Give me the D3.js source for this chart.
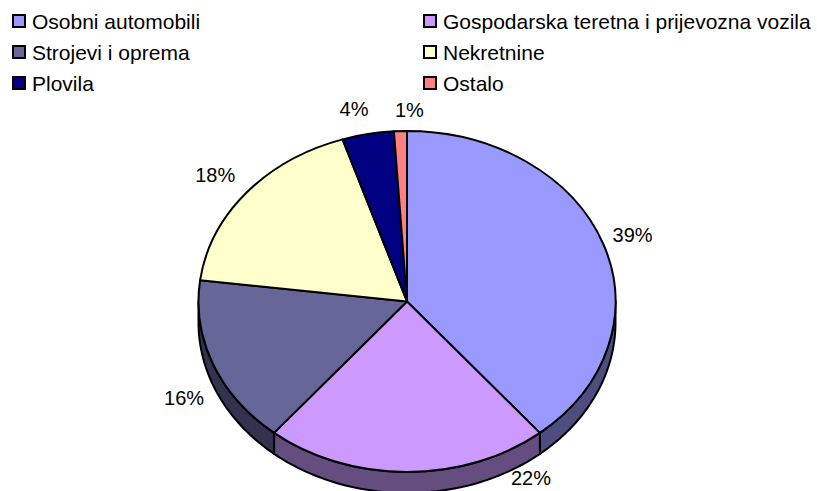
<!DOCTYPE html>
<html>
<head>
<meta charset="utf-8">
<script src="https://cdn.jsdelivr.net/npm/d3@7"></script>
<style>
  html, body { margin: 0; padding: 0; background: #fff; }
  svg { display: block; font-family: "Liberation Sans", Arial, sans-serif; }
</style>
</head>
<body>
<svg id="chart" width="817" height="491"></svg>
<script>
// Struktura po vrsti predmeta (udio u %)
const categories = [
  "Osobni automobili",
  "Gospodarska teretna i prijevozna vozila",
  "Strojevi i oprema",
  "Nekretnine",
  "Plovila",
  "Ostalo"
];
const shares = [39, 22, 16, 18, 4, 1];

// Slice fills (top face) and their shaded walls
const topColors  = ["#9999FF", "#CC99FF", "#666699", "#FFFFCC", "#000080", "#FF8080"];
const sideColors = ["#4D4D80", "#664D80", "#333350", "#808066", "#000040", "#804040"];

// Small nudges for the percentage labels around the rim
const labelNudge = [[0, 0], [124, -20], [0, 24], [-7, -2], [-8, 0], [10, 4]];

const svg = d3.select("#chart");
const W = 817, H = 491;

// Tilted pie geometry
const cx = 407, cy = 301.5, rx = 208.5, ry = 170.5, depth = 21;

const pie = d3.pie().sort(null).value(d => d);
const arcs = pie(shares);

const pt = (a, dy = 0, k = 1) => [cx + k * rx * Math.sin(a), cy - k * ry * Math.cos(a) + dy];

// Outer walls, only for the part of the rim facing the viewer
const wallLine = d3.line();
const walls = svg.append("g");
arcs.forEach((d, i) => {
  const a0 = Math.max(d.startAngle, Math.PI / 2);
  const a1 = Math.min(d.endAngle, 3 * Math.PI / 2);
  if (a0 >= a1) return;
  const steps = 60;
  const angles = d3.range(steps + 1).map(s => a0 + (a1 - a0) * s / steps);
  const pts = angles.map(a => pt(a)).concat(angles.slice().reverse().map(a => pt(a, depth)));
  walls.append("path")
    .attr("d", wallLine(pts) + "Z")
    .attr("fill", sideColors[i])
    .attr("stroke", "#000")
    .attr("stroke-width", 2)
    .attr("stroke-linejoin", "round");
});

// Top faces: circular arcs squashed into the ellipse
const arcGen = d3.arc().innerRadius(0).outerRadius(rx);
svg.append("g")
  .attr("transform", `translate(${cx},${cy}) scale(1,${ry / rx})`)
  .selectAll("path")
  .data(arcs)
  .join("path")
  .attr("d", arcGen)
  .attr("fill", (d, i) => topColors[i])
  .attr("stroke", "#000")
  .attr("stroke-width", 2)
  .attr("stroke-linejoin", "round")
  .attr("vector-effect", "non-scaling-stroke");

// Percentage labels
svg.append("g")
  .selectAll("text")
  .data(arcs)
  .join("text")
  .attr("x", (d, i) => pt((d.startAngle + d.endAngle) / 2, 0, 1.15)[0] + labelNudge[i][0])
  .attr("y", (d, i) => pt((d.startAngle + d.endAngle) / 2, 0, 1.15)[1] + labelNudge[i][1])
  .attr("dy", "0.36em")
  .attr("text-anchor", "middle")
  .attr("font-size", 20)
  .attr("fill", "#000")
  .text(d => d3.format(".0%")(d.data / d3.sum(shares)));

// Legend: two columns, filled row by row
const colX = [13, 424];
const rowY = [29, 60, 91];
const legend = svg.append("g")
  .selectAll("g")
  .data(categories)
  .join("g")
  .attr("transform", (d, i) => `translate(${colX[i % 2]},${rowY[Math.floor(i / 2)]})`);

legend.append("rect")
  .attr("x", 0).attr("y", -14)
  .attr("width", 12).attr("height", 12)
  .attr("fill", (d, i) => topColors[i])
  .attr("stroke", "#000")
  .attr("stroke-width", 2);

legend.append("text")
  .attr("x", 19)
  .attr("y", 0)
  .attr("font-size", 21)
  .attr("fill", "#000")
  .text(d => d);
</script>
</body>
</html>
